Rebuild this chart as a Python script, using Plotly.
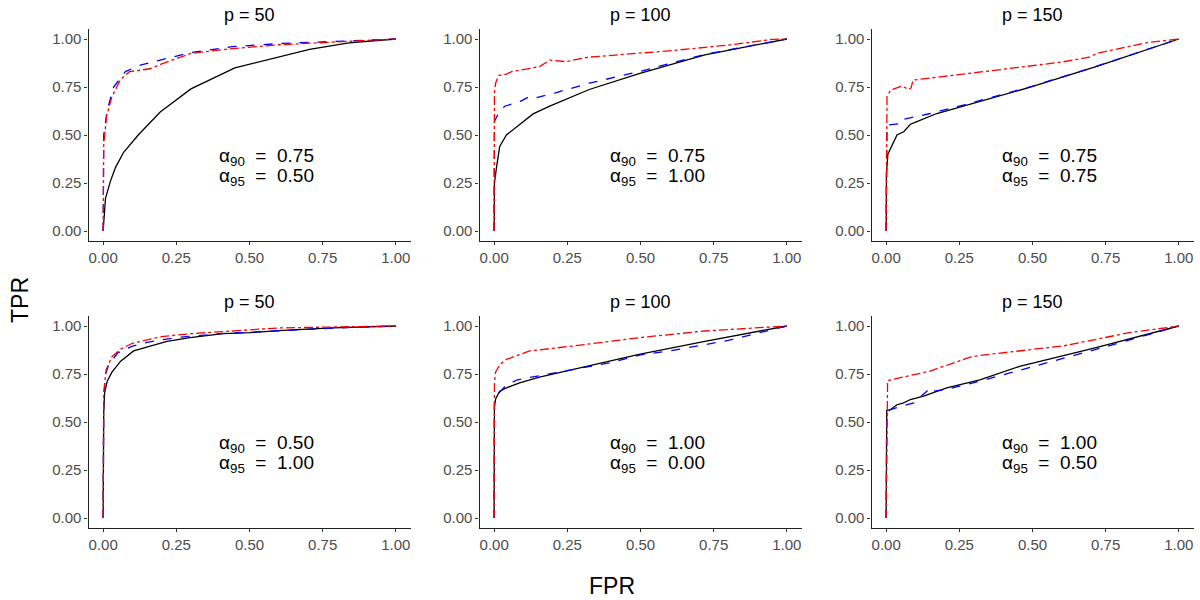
import plotly.graph_objects as go

# ROC curves: fpr / tpr per panel and method
# row 1
r1_p50_solid_fpr = [0, 0.003, 0.008, 0.025, 0.042, 0.07, 0.12, 0.195, 0.3, 0.45, 0.58, 0.705, 0.84, 1]
r1_p50_solid_tpr = [0, 0.08, 0.17, 0.26, 0.33, 0.41, 0.5, 0.62, 0.74, 0.85, 0.9, 0.946, 0.98, 1]
r1_p50_dash_fpr = [0, 0.002, 0.014, 0.036, 0.076, 0.127, 0.195, 0.3, 0.44, 0.61, 0.84, 1]
r1_p50_dash_tpr = [0, 0.5, 0.63, 0.75, 0.83, 0.864, 0.89, 0.93, 0.96, 0.977, 0.99, 1]
r1_p50_dot_fpr = [0, 0.002, 0.012, 0.03, 0.06, 0.09, 0.16, 0.2, 0.3, 0.44, 0.6, 0.8, 1]
r1_p50_dot_tpr = [0, 0.45, 0.6, 0.7, 0.79, 0.83, 0.845, 0.87, 0.925, 0.95, 0.97, 0.985, 1]

r1_p100_solid_fpr = [0, 0.001, 0.008, 0.019, 0.042, 0.082, 0.133, 0.19, 0.246, 0.325, 0.495, 0.72, 1]
r1_p100_solid_tpr = [0, 0.25, 0.33, 0.44, 0.5, 0.55, 0.61, 0.65, 0.685, 0.737, 0.82, 0.917, 1]
r1_p100_dash_fpr = [0, 0.001, 0.014, 0.036, 0.087, 0.12, 0.144, 0.21, 0.325, 0.495, 0.72, 1]
r1_p100_dash_tpr = [0, 0.57, 0.61, 0.65, 0.673, 0.7, 0.694, 0.72, 0.77, 0.83, 0.92, 1]
r1_p100_dot_fpr = [0, 0.001, 0.005, 0.015, 0.042, 0.06, 0.155, 0.19, 0.246, 0.32, 0.61, 0.81, 0.95, 1]
r1_p100_dot_tpr = [0, 0.72, 0.77, 0.81, 0.817, 0.83, 0.856, 0.89, 0.882, 0.905, 0.94, 0.97, 0.998, 1]

r1_p150_solid_fpr = [0, 0.001, 0.006, 0.026, 0.037, 0.06, 0.083, 0.105, 0.173, 0.264, 0.49, 0.717, 1]
r1_p150_solid_tpr = [0, 0.3, 0.4, 0.47, 0.5, 0.517, 0.556, 0.57, 0.612, 0.65, 0.748, 0.856, 1]
r1_p150_dash_fpr = [0, 0.001, 0.003, 0.049, 0.054, 0.15, 0.264, 0.49, 0.717, 1]
r1_p150_dash_tpr = [0, 0.55, 0.551, 0.56, 0.58, 0.612, 0.656, 0.75, 0.857, 1]
r1_p150_dot_fpr = [0, 0.001, 0.003, 0.015, 0.054, 0.077, 0.085, 0.092, 0.2, 0.377, 0.6, 0.694, 0.72, 0.887, 1]
r1_p150_dot_tpr = [0, 0.55, 0.7, 0.734, 0.755, 0.737, 0.745, 0.786, 0.805, 0.838, 0.88, 0.905, 0.925, 0.98, 1]

# row 2
r2_p50_solid_fpr = [0, 0.002, 0.005, 0.014, 0.03, 0.06, 0.104, 0.15, 0.172, 0.218, 0.297, 0.41, 0.5, 0.614, 0.785, 1]
r2_p50_solid_tpr = [0, 0.55, 0.65, 0.713, 0.76, 0.817, 0.87, 0.89, 0.896, 0.92, 0.94, 0.96, 0.965, 0.977, 0.99, 1]
r2_p50_dash_fpr = [0, 0.002, 0.008, 0.02, 0.05, 0.1, 0.15, 0.25, 0.4, 0.6, 0.8, 1]
r2_p50_dash_tpr = [0, 0.62, 0.75, 0.8, 0.86, 0.895, 0.915, 0.94, 0.96, 0.975, 0.99, 1]
r2_p50_dot_fpr = [0, 0.002, 0.01, 0.03, 0.06, 0.1, 0.2, 0.3, 0.45, 0.6, 0.8, 1]
r2_p50_dot_tpr = [0, 0.65, 0.77, 0.84, 0.88, 0.91, 0.945, 0.96, 0.975, 0.99, 0.995, 1]

r2_p100_solid_fpr = [0, 0.001, 0.005, 0.019, 0.042, 0.087, 0.155, 0.27, 0.382, 0.495, 0.72, 1]
r2_p100_solid_tpr = [0, 0.58, 0.62, 0.66, 0.678, 0.704, 0.734, 0.774, 0.81, 0.852, 0.92, 1]
r2_p100_dash_fpr = [0, 0.001, 0.01, 0.04, 0.08, 0.15, 0.25, 0.4, 0.5, 0.6, 0.8, 1]
r2_p100_dash_tpr = [0, 0.6, 0.64, 0.69, 0.72, 0.74, 0.765, 0.81, 0.85, 0.87, 0.925, 1]
r2_p100_dot_fpr = [0, 0.001, 0.005, 0.02, 0.042, 0.121, 0.27, 0.495, 0.72, 0.89, 1]
r2_p100_dot_tpr = [0, 0.7, 0.76, 0.8, 0.826, 0.87, 0.896, 0.939, 0.974, 0.99, 1]

r2_p150_solid_fpr = [0, 0.002, 0.015, 0.037, 0.06, 0.083, 0.128, 0.207, 0.32, 0.456, 0.717, 1]
r2_p150_solid_tpr = [0, 0.56, 0.565, 0.59, 0.6, 0.617, 0.635, 0.678, 0.72, 0.79, 0.887, 1]
r2_p150_dash_fpr = [0, 0.002, 0.015, 0.094, 0.139, 0.15, 0.162, 0.207, 0.32, 0.49, 0.717, 1]
r2_p150_dash_tpr = [0, 0.55, 0.565, 0.6, 0.66, 0.678, 0.66, 0.67, 0.713, 0.783, 0.878, 1]
r2_p150_dot_fpr = [0, 0.002, 0.005, 0.15, 0.287, 0.32, 0.604, 0.83, 1]
r2_p150_dot_tpr = [0, 0.55, 0.716, 0.765, 0.838, 0.847, 0.896, 0.965, 1]

panel_titles = ["p = 50", "p = 100", "p = 150", "p = 50", "p = 100", "p = 150"]
alpha90 = ["0.75", "0.75", "0.75", "0.50", "1.00", "1.00"]
alpha95 = ["0.50", "1.00", "0.75", "1.00", "0.00", "0.50"]
tick_vals = [0, 0.25, 0.5, 0.75, 1.0]

panels = [
    (r1_p50_solid_fpr, r1_p50_solid_tpr, r1_p50_dash_fpr, r1_p50_dash_tpr, r1_p50_dot_fpr, r1_p50_dot_tpr),
    (r1_p100_solid_fpr, r1_p100_solid_tpr, r1_p100_dash_fpr, r1_p100_dash_tpr, r1_p100_dot_fpr, r1_p100_dot_tpr),
    (r1_p150_solid_fpr, r1_p150_solid_tpr, r1_p150_dash_fpr, r1_p150_dash_tpr, r1_p150_dot_fpr, r1_p150_dot_tpr),
    (r2_p50_solid_fpr, r2_p50_solid_tpr, r2_p50_dash_fpr, r2_p50_dash_tpr, r2_p50_dot_fpr, r2_p50_dot_tpr),
    (r2_p100_solid_fpr, r2_p100_solid_tpr, r2_p100_dash_fpr, r2_p100_dash_tpr, r2_p100_dot_fpr, r2_p100_dot_tpr),
    (r2_p150_solid_fpr, r2_p150_solid_tpr, r2_p150_dash_fpr, r2_p150_dash_tpr, r2_p150_dot_fpr, r2_p150_dot_tpr),
]

W, H = 1200, 600
# panel boxes in pixels (ggplot-style, 5% expansion each side)
col_px = [(88.5, 410.5), (479.5, 801.5), (871.5, 1193.5)]
row_px = [(29.4, 240.6), (316.4, 527.6)]


def px_x(v):
    return v / W


def px_y(v):
    return 1 - v / H


FONT = "Liberation Sans, Arial, sans-serif"

fig = go.Figure()
layout = dict(
    width=W, height=H,
    margin=dict(l=0, r=0, t=0, b=0, autoexpand=False),
    paper_bgcolor="white", plot_bgcolor="white",
    showlegend=False,
    font=dict(family=FONT),
)
annotations = []

for i, (sf, st, df_, dt, of, ot) in enumerate(panels):
    r, c = divmod(i, 3)
    n = "" if i == 0 else str(i + 1)
    xa, ya = "x" + n, "y" + n
    x0, x1 = col_px[c]
    y0, y1 = row_px[r]

    fig.add_trace(go.Scatter(x=sf, y=st, mode="lines", xaxis=xa, yaxis=ya,
                             line=dict(color="black", width=1.3)))
    fig.add_trace(go.Scatter(x=df_, y=dt, mode="lines", xaxis=xa, yaxis=ya,
                             line=dict(color="blue", width=1.3, dash="dash")))
    fig.add_trace(go.Scatter(x=of, y=ot, mode="lines", xaxis=xa, yaxis=ya,
                             line=dict(color="red", width=1.3, dash="dashdot")))

    axis_common = dict(
        range=[-0.05, 1.05], tickvals=tick_vals, tickformat=".2f",
        showgrid=False, zeroline=False, showline=True, linecolor="#222222", linewidth=1.2,
        ticks="outside", ticklen=3, tickcolor="#333333", automargin=False,
        tickfont=dict(size=15, color="#4d4d4d", family=FONT),
        fixedrange=True,
    )
    layout["xaxis" + n] = dict(axis_common, domain=[px_x(x0), px_x(x1)], anchor=ya)
    layout["yaxis" + n] = dict(axis_common, domain=[px_y(y1), px_y(y0)], anchor=xa)

    annotations.append(dict(
        text=panel_titles[i], x=px_x((x0 + x1) / 2), y=px_y(y0 - 14),
        xref="paper", yref="paper", showarrow=False,
        font=dict(size=18, color="black"), xanchor="center", yanchor="middle"))
    annotations.append(dict(
        text="α<sub>90</sub>  =  " + alpha90[i], x=0.39, y=0.385, xref=xa, yref=ya,
        showarrow=False, xanchor="left", yanchor="middle",
        font=dict(size=19, color="black")))
    annotations.append(dict(
        text="α<sub>95</sub>  =  " + alpha95[i], x=0.39, y=0.281, xref=xa, yref=ya,
        showarrow=False, xanchor="left", yanchor="middle",
        font=dict(size=19, color="black")))

annotations.append(dict(text="TPR", x=px_x(20), y=px_y(300), xref="paper", yref="paper",
                        xanchor="center", yanchor="middle",
                        showarrow=False, textangle=-90, font=dict(size=23, color="black")))
annotations.append(dict(text="FPR", x=px_x(612), y=px_y(586), xref="paper", yref="paper",
                        xanchor="center", yanchor="middle",
                        showarrow=False, font=dict(size=23, color="black")))

layout["annotations"] = annotations
fig.update_layout(**layout)
# drop the default 8px page margin so the figure fills the window exactly
fig.write_html("out.html",
               config={"displayModeBar": False},
               post_script="document.body.style.margin='0px';document.body.style.overflow='hidden';")
